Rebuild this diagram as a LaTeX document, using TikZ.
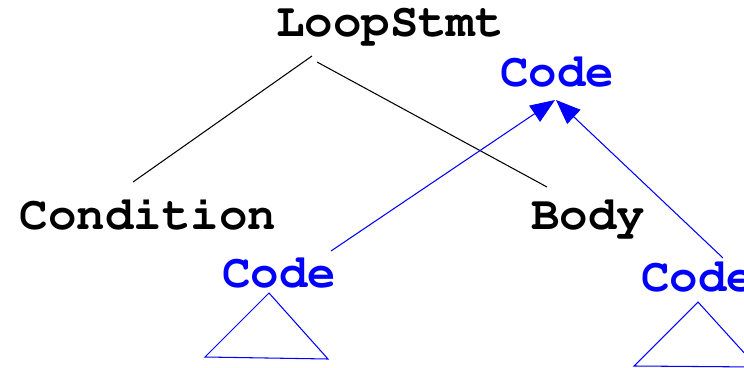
\documentclass[tikz,border=0pt]{standalone}
\usepackage[T1]{fontenc}
\newcommand\astfont{\fontencoding{T1}\fontfamily{pcr}\bfseries}
\usetikzlibrary{arrows.meta, calc}

\begin{document}
\begin{tikzpicture}[x=0.02cm,y=-0.02cm,>={Triangle[length=14pt,width=11pt]},
    every node/.style={inner sep=0pt, anchor=base, font=\astfont\fontsize{27}{30}\selectfont},
    code/.style={text=blue},
    edge/.style={draw, line width=0.6pt},
    link/.style={draw=blue, line width=0.6pt, ->, blue}]
    \clip (0,0) rectangle (744,368);

    \node (Loop) at (390,37) {LoopStmt};
    \node (Cond) at (148,229) {Condition};
    \node (Body) at (588,229) {Body};
    \node[code] (Code) at (557,87) {Code};
    \node[code] (CodeA) at (279,287) {Code};
    \node[code] (CodeB) at (698,291) {Code};

    \draw[edge] ([shift={(-78,19)}]Loop.base) -- ([shift={(-15,-47)}]Cond.base);
    \draw[edge] ([shift={(-73,25)}]Loop.base) -- ([shift={(-41,-42)}]Body.base);

    \draw[link] ([shift={(52,-36)}]CodeA.base) -- ([shift={(-2,13)}]Code.base);
    \draw[link] ([shift={(25,-33)}]CodeB.base) -- ([shift={(-1,13)}]Code.base);

    % subtrees under the two Code nodes
    \draw[blue, line width=0.6pt] ([shift={(-10,6)}]CodeA.base) -- ++(-64,64) -- ++(123,2) -- cycle;
    \draw[blue, line width=0.6pt] ([shift={(0,11)}]CodeB.base) -- ++(-64,64) -- ++(123,1) -- cycle;
\end{tikzpicture}
\end{document}
